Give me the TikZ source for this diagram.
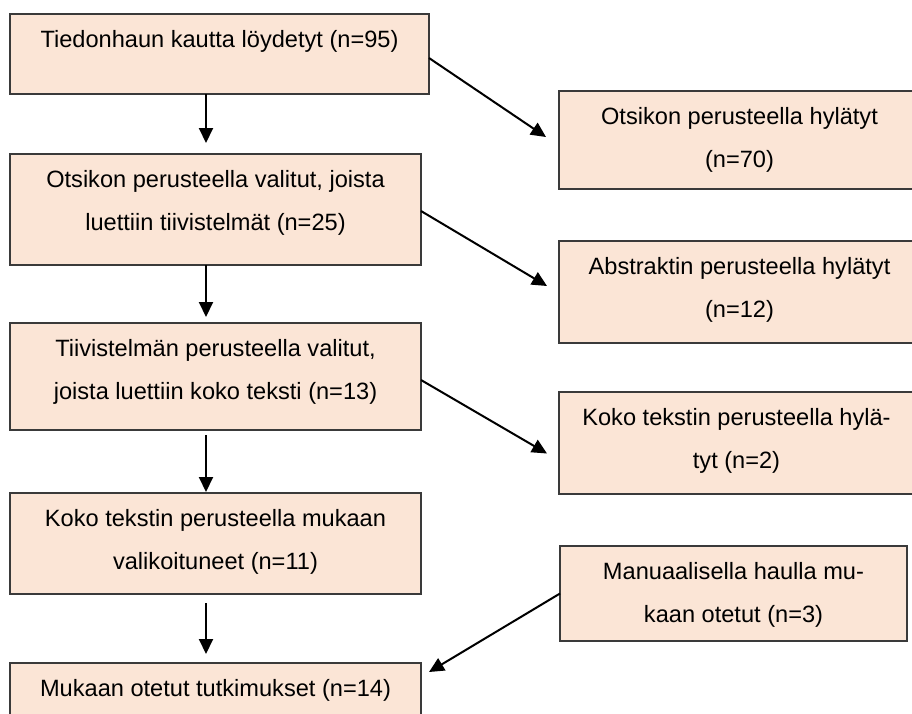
\documentclass[tikz,border=0pt]{standalone}
\usepackage{fontspec}
\setmainfont{Liberation Sans}
\usetikzlibrary{arrows.meta}
\definecolor{boxfill}{HTML}{FBE5D6}
\definecolor{boxline}{HTML}{3A3A3A}
\newcommand{\boxtext}[3]{\parbox[c][#2pt][t]{#1pt}{\fontsize{23.6pt}{43pt}\selectfont\centering\rule{0pt}{33pt}#3}}
\tikzset{
  box/.style={draw=boxline, fill=boxfill, line width=1.3pt, inner sep=0pt, outer sep=0pt, anchor=north west},
  arr/.style={-{Triangle[length=15pt,width=14pt]}, line width=2pt, black}
}
\begin{document}
\begin{tikzpicture}[x=1pt,y=-1pt]
\useasboundingbox (0,0) rectangle (912,713);
\clip (0,0) rectangle (912,713);
% left column
\node[box] (b1) at (10,14) {\boxtext{419}{80}{Tiedonhaun kautta löydetyt (n=95)}};
\node[box] (b2) at (10,154) {\boxtext{411}{111}{Otsikon perusteella valitut, joista\\luettiin tiivistelmät (n=25)}};
\node[box] (b3) at (10,323) {\boxtext{411}{107}{Tiivistelmän perusteella valitut,\\joista luettiin koko teksti (n=13)}};
\node[box] (b4) at (10,493) {\boxtext{411}{101}{Koko tekstin perusteella mukaan\\valikoituneet (n=11)}};
\node[box] (b5) at (10,663) {\boxtext{411}{90}{Mukaan otetut tutkimukset (n=14)}};
% right column
\node[box] (r1) at (559,91) {\boxtext{361}{98}{Otsikon perusteella hylätyt\\(n=70)}};
\node[box] (r2) at (559,241) {\boxtext{361}{102}{Abstraktin perusteella hylätyt\\(n=12)}};
\node[box] (r3) at (559,392) {\boxtext{355}{102}{Koko tekstin perusteella hylä-\\tyt (n=2)}};
\node[box] (r4) at (560,546) {\boxtext{347}{95}{Manuaalisella haulla mu-\\kaan otetut (n=3)}};
% vertical arrows
\draw[arr, shorten >=11pt] ([xshift=-13.5pt]b1.south) -- ([xshift=-9.5pt]b2.north);
\draw[arr, shorten >=6pt] ([xshift=-9.5pt]b2.south) -- ([xshift=-9.5pt]b3.north);
\draw[arr, shorten <=5pt, shorten >=1pt] ([xshift=-9.5pt]b3.south) -- ([xshift=-9.5pt]b4.north);
\draw[arr, shorten <=9pt, shorten >=9pt] ([xshift=-9.5pt]b4.south) -- ([xshift=-9.5pt]b5.north);
% diagonal arrows
\draw[arr] ([yshift=-4pt]b1.east) -- ([xshift=-13pt,yshift=3pt]r1.west);
\draw[arr] ([yshift=-1.5pt]b2.east) -- ([xshift=-12pt,yshift=6pt]r2.west);
\draw[arr] ([yshift=-3.5pt]b3.east) -- ([xshift=-12pt,yshift=-10.5pt]r3.west);
\draw[arr] (r4.west) -- ([xshift=8pt,yshift=-9pt]b5.north east);
\end{tikzpicture}
\end{document}
